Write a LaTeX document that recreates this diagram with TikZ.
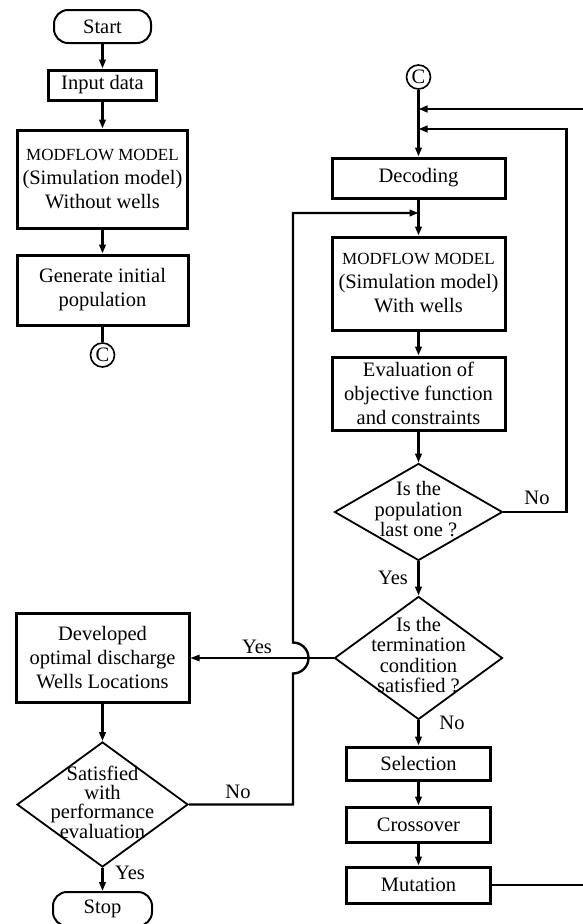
\documentclass[tikz,border=0pt]{standalone}
\usepackage{fontspec}
\setmainfont{Liberation Serif}
\usetikzlibrary{shapes.geometric,arrows.meta}
\newcommand\dtxt[1]{\makebox[0pt]{\begin{tabular}{@{}c@{}}#1\end{tabular}}}
\begin{document}
\begin{tikzpicture}[x=1pt,y=-1pt,
 every node/.style={font=\fontsize{20.5}{24}\selectfont},
 box/.style={draw, line width=3pt, rectangle, inner sep=1pt, align=center},
 term/.style={draw, line width=2pt, rounded corners=14pt, inner sep=0pt},
 dec/.style={draw, diamond, line width=1.8pt, inner sep=0pt, font=\fontsize{20.5}{20}\selectfont},
 circ/.style={draw, circle, line width=1.6pt, minimum size=24pt, inner sep=0pt},
 conn/.style={line width=2.4pt, -{Triangle[length=9pt,width=6.5pt]}},
 plain/.style={line width=2.4pt},
 lbl/.style={inner sep=0pt}]
\fill[white] (0,0) rectangle (582,924);
\useasboundingbox (0,0) rectangle (582,924);

% left column
\node[term, minimum width=97pt, minimum height=33pt] (start) at (102.5,26.5) {Start};
\node[box, minimum width=108pt, minimum height=30pt] (input) at (102.5,85) {Input data};
\node[box, minimum width=170pt, minimum height=98pt] (mf1) at (102.5,179) {{\fontsize{17}{24}\selectfont MODFLOW MODEL}\\(Simulation model)\\Without wells};
\node[box, minimum width=171pt, minimum height=70pt] (gen) at (102.5,290) {Generate initial\\population};
\node[circ] (c1) at (102.5,355) {C};
\node[box, minimum width=173pt, minimum height=89pt] (dev) at (102.5,658) {Developed\\optimal discharge\\Wells Locations};
\node[dec, minimum width=171pt, minimum height=125pt, font=\fontsize{20.5}{17}\selectfont] (d3) at (102.5,804.5) {\dtxt{Satisfied\\with\\performance\\evaluation}};
\node[term, minimum width=99pt, minimum height=34pt] (stop) at (102.5,909) {Stop};

% right column
\node[circ] (c2) at (418.5,77) {C};
\node[box, minimum width=173pt, minimum height=40pt] (decod) at (418.5,178) {Decoding};
\node[box, minimum width=173pt, minimum height=93pt] (mf2) at (418.5,283.5) {{\fontsize{17}{24}\selectfont MODFLOW MODEL}\\(Simulation model)\\With wells};
\node[box, minimum width=173pt, minimum height=73pt] (eval) at (418.5,393.5) {Evaluation of\\objective function\\and constraints};
\node[dec, minimum width=168pt, minimum height=97pt] (d1) at (418.5,512) {\dtxt{Is the\\population\\last one ?}};
\node[dec, minimum width=168pt, minimum height=123pt] (d2) at (418.5,658) {\dtxt{Is the\\termination\\condition\\satisfied ?}};
\node[box, minimum width=144pt, minimum height=33pt] (sel) at (418.5,763.5) {Selection};
\node[box, minimum width=144pt, minimum height=35pt] (cross) at (418.5,824.5) {Crossover};
\node[box, minimum width=144pt, minimum height=36pt] (mut) at (418.5,885) {Mutation};

% coordinates
\coordinate (j1) at (418.5,109);
\coordinate (j2) at (418.5,129);
\coordinate (j3) at (418.5,213);
\coordinate (rr) at (586,885);
\coordinate (r2) at (566.5,512);
\coordinate (hb) at (293,673.5);
\coordinate (lt) at (293,213);

% left connectors
\draw[conn] (start) -- (input);
\draw[conn] (input) -- (mf1);
\draw[conn] (mf1) -- (gen);
\draw[plain] (gen) -- (c1);
\draw[conn] (dev) -- (d3);
\draw[conn] (d3) -- (stop);
\node[lbl] (ly3) at (130,873) {Yes};

% right connectors
\draw[conn] (c2) -- (decod);
\draw[conn] (decod) -- (mf2);
\draw[conn] (mf2) -- (eval);
\draw[conn] (eval) -- (d1);
\draw[conn] (d1) -- (d2);
\node[lbl] (ly1) at (393,578) {Yes};
\draw[conn] (d1.east) -- (r2) |- (j2);
\node[lbl] (ln1) at (537,498) {No};
\draw[conn] (d2) -- (sel);
\node[lbl] (ln2) at (452,723) {No};
\draw[conn] (sel) -- (cross);
\draw[conn] (cross) -- (mut);
\draw[conn] (mut.east) -- (rr) |- (j1);

% cross connectors
\draw[line width=1.2pt, -{Triangle[length=9pt,width=6.5pt]}] (d2.west) -- (dev.east);
\node[lbl] (ly2) at (257,647) {Yes};
\draw[conn] (d3.east) -| (hb) arc[start angle=90, end angle=-90, radius=15.5] -- (lt) -- (j3);
\node[lbl] (ln3) at (238,792) {No};
\end{tikzpicture}
\end{document}
